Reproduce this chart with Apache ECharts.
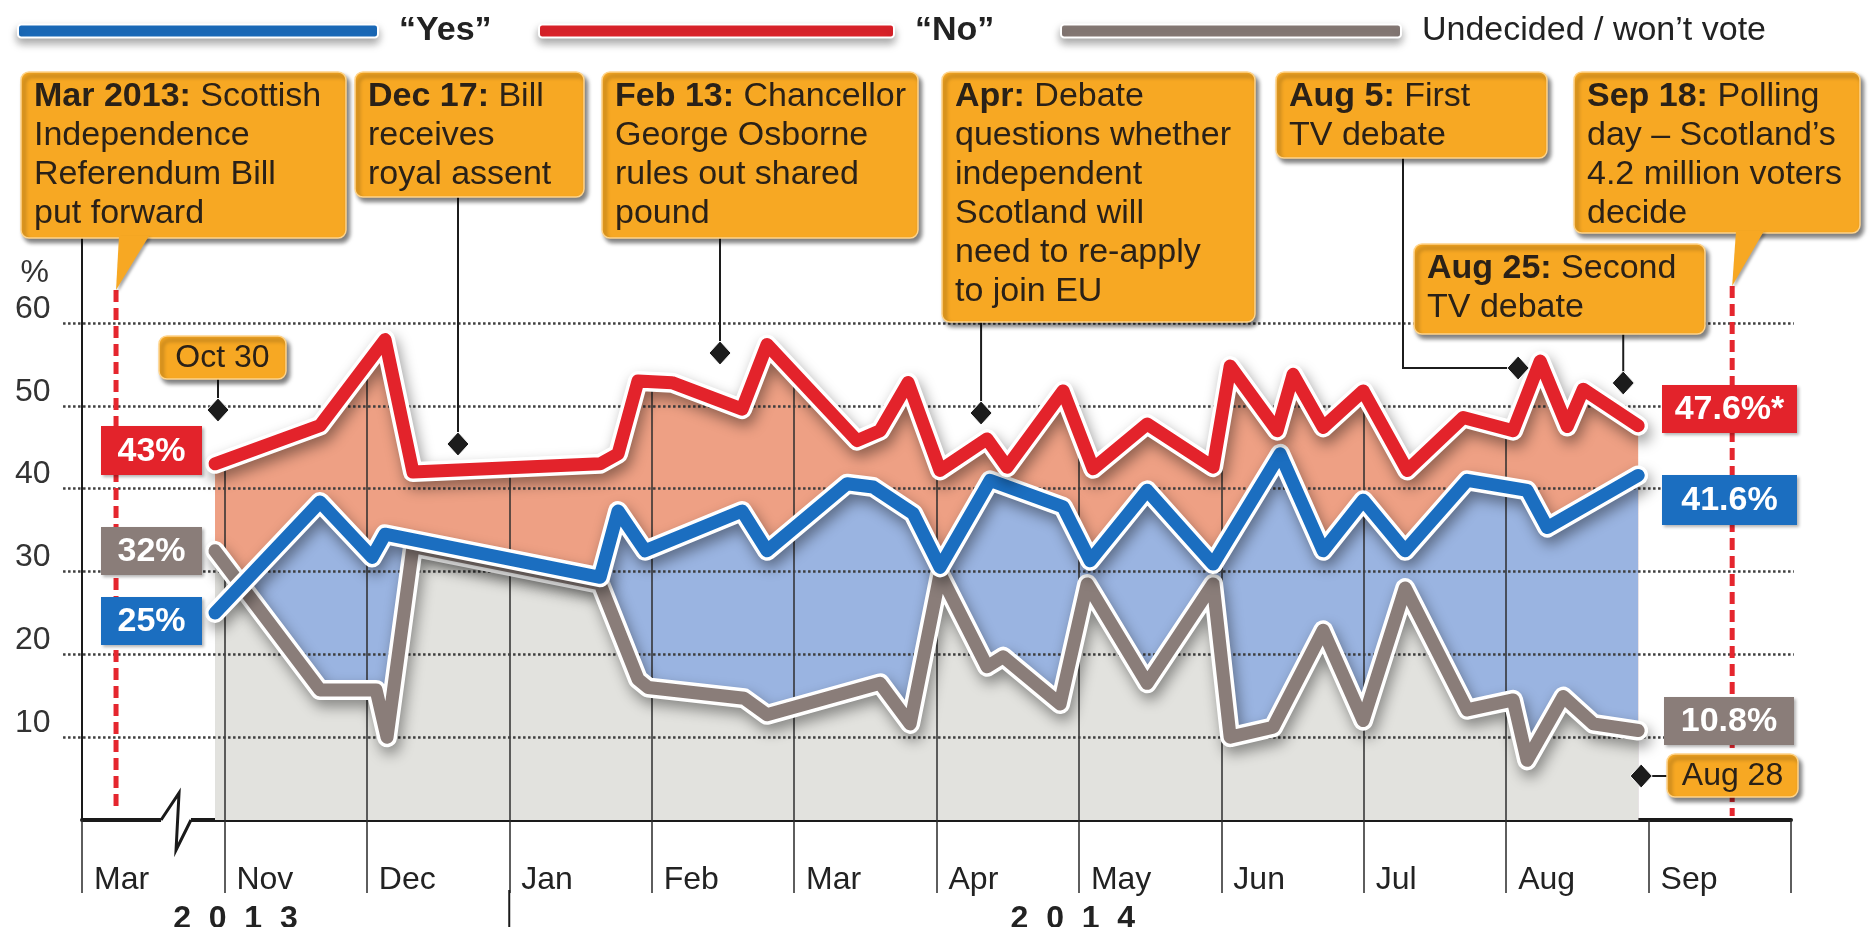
<!DOCTYPE html>
<html>
<head>
<meta charset="utf-8">
<script src="https://cdn.jsdelivr.net/npm/echarts/dist/echarts.min.js"></script>
<style>
  html, body { margin: 0; padding: 0; background: #fff; overflow: hidden; }
  #chart { width: 1870px; height: 927px; }
</style>
</head>
<body>
<div id="chart"></div>
<script>
// x is measured in month columns: 0 = start of Mar 2013, 1 = start of Nov 2013 ... 11 = start of Sep 2014
const monthLabels = ['Mar', 'Nov', 'Dec', 'Jan', 'Feb', 'Mar', 'Apr', 'May', 'Jun', 'Jul', 'Aug', 'Sep']
const yearLabels = ['2  0  1  3', '2  0  1  4']
const yTicks = [10, 20, 30, 40, 50, 60]
const seriesNames = ['“Yes”', '“No”', 'Undecided / won’t vote']

const noData = [
  [0.934, 43], [1.671, 47.6], [2.128, 58], [2.324, 42], [3.638, 43], [3.764, 44.2],
  [3.904, 53], [4.143, 52.8], [4.635, 49.6], [4.810, 57.4], [5.442, 45.8], [5.604, 47],
  [5.801, 52.8], [6.025, 42.2], [6.355, 46], [6.496, 42.6], [6.889, 51.8], [7.100, 42.4],
  [7.479, 47.8], [7.942, 42.6], [8.062, 54.8], [8.392, 47], [8.504, 53.8], [8.715, 47.4],
  [8.996, 51.8], [9.305, 42.2], [9.698, 48.6], [10.049, 47], [10.239, 55.4], [10.429, 47.5],
  [10.541, 52], [10.927, 47.6]
]
const yesData = [
  [0.934, 25], [1.671, 38.4], [2.037, 31.7], [2.128, 34.5], [3.638, 29.3], [3.764, 37.3],
  [3.954, 32.5], [4.635, 37.3], [4.810, 32.5], [5.372, 40.6], [5.555, 40.2], [5.836, 37],
  [6.025, 30.5], [6.376, 41], [6.889, 37.8], [7.079, 31.3], [7.479, 39.8], [7.942, 30.9],
  [8.413, 44.2], [8.715, 32.5], [8.996, 38.6], [9.291, 32.5], [9.726, 41], [10.147, 39.8],
  [10.288, 35.3], [10.927, 41.6]
]
const undecidedData = [
  [0.934, 32.5], [1.671, 15.7], [2.065, 15.7], [2.142, 10], [2.324, 33], [3.638, 28.5],
  [3.904, 17], [3.975, 16], [4.649, 14.7], [4.810, 12.7], [5.604, 16.5], [5.815, 11.6],
  [6.025, 29.7], [6.355, 18.5], [6.468, 19.7], [6.868, 14], [7.058, 28.5], [7.479, 16.5],
  [7.942, 28.5], [8.062, 10], [8.364, 11.2], [8.715, 22.9], [8.996, 12], [9.291, 28],
  [9.726, 13.3], [10.049, 14.5], [10.147, 7.2], [10.401, 14.9], [10.612, 11.6], [10.927, 10.8]
]

// first and last values shown in the side boxes: yes, no, undecided
const startLabels = ['25%', '43%', '32%']
const endLabels = ['41.6%', '47.6%*', '10.8%']

// events on the same month scale
const eventDates = [0.239, 0.955, 2.640, 4.480, 6.313, 10.084, 10.822, 10.948, 11.587]
const eventTexts = [
  '{b|Mar 2013:} Scottish\nIndependence\nReferendum Bill\nput forward',
  'Oct 30',
  '{b|Dec 17:} Bill\nreceives\nroyal assent',
  '{b|Feb 13:} Chancellor\nGeorge Osborne\nrules out shared\npound',
  '{b|Apr:} Debate\nquestions whether\nindependent\nScotland will\nneed to re-apply\nto join EU',
  '{b|Aug 5:} First\nTV debate',
  '{b|Aug 25:} Second\nTV debate',
  'Aug 28',
  '{b|Sep 18:} Polling\nday – Scotland’s\n4.2 million voters\ndecide'
]

const FONT = '"Liberation Sans", Arial, Helvetica, sans-serif'
const RED = '#e3232b'
const BLUE = '#1b6ec0'
const GREY = '#8a7d79'
const ORANGE = '#f7a823'
const INK = '#2a2118'

const chart = echarts.init(document.getElementById('chart'))

function fillSeries(data, color, z) {
  return {
    type: 'line', data, z, silent: true, symbol: 'none', animation: false,
    lineStyle: { opacity: 0 },
    areaStyle: { color, opacity: 1 }
  }
}

function outlineSeries(data, z) {
  return {
    type: 'line', data, z, silent: true, symbol: 'none', animation: false,
    lineStyle: {
      color: '#fff', width: 20, join: 'round', cap: 'round',
      shadowBlur: 14, shadowColor: 'rgba(0,0,0,0.4)', shadowOffsetX: 3, shadowOffsetY: 7
    }
  }
}

function lineSeries(name, data, color, z) {
  return {
    name, type: 'line', data, z, symbol: 'none', animation: false,
    itemStyle: { color },
    lineStyle: { color, width: 13, join: 'round', cap: 'round' }
  }
}

function legendItem(name, left, width, color, bold) {
  return {
    left, top: 9, itemWidth: width, itemHeight: 13, icon: 'roundRect', selectedMode: false,
    itemStyle: { color, borderColor: '#fff', borderWidth: 2, shadowBlur: 8, shadowColor: 'rgba(0,0,0,0.35)', shadowOffsetY: 5 },
    textStyle: { fontSize: 34, fontFamily: FONT, color: '#222', fontWeight: bold ? 'bold' : 'normal', padding: [0, 0, 0, 16] },
    data: [name]
  }
}

const options = {
  animation: false,
  legend: [
    legendItem(seriesNames[0], 12, 360, BLUE, true),
    legendItem(seriesNames[1], 533, 355, RED, true),
    legendItem(seriesNames[2], 1055, 340, GREY, false)
  ],
  grid: { left: 82, right: 79, top: 323, bottom: 107, containLabel: false, outerBoundsMode: 'none' },
  xAxis: {
    type: 'value', min: 0, max: 12, interval: 1,
    axisLine: { show: true, lineStyle: { color: '#1a1a1a', width: 4 } },
    axisTick: { show: true, length: 73, lineStyle: { color: '#2a2a2a', width: 1.5 } },
    axisLabel: {
      formatter: v => monthLabels[v] || '',
      align: 'left', padding: [0, 0, 0, 12], margin: 44,
      fontSize: 32, color: '#222', fontFamily: FONT,
      showMinLabel: true, showMaxLabel: true
    },
    splitLine: { show: false }
  },
  yAxis: {
    type: 'value', min: 0, max: 60, interval: 10,
    name: '%', nameLocation: 'end', nameGap: 50,
    nameTextStyle: { fontSize: 32, color: '#333', fontFamily: FONT, align: 'right', verticalAlign: 'middle', padding: [0, 33, 0, 0] },
    axisLine: { show: true, lineStyle: { color: '#1a1a1a', width: 2 } },
    axisTick: { show: false },
    axisLabel: {
      formatter: v => (v === 0 ? '' : String(v)),
      align: 'left', margin: 67, verticalAlign: 'bottom', lineHeight: 28,
      fontSize: 32, color: '#333', fontFamily: FONT
    },
    splitLine: { show: false }
  },
  series: [
    fillSeries(noData, '#eea084', 1),
    fillSeries(yesData, '#9ab4e1', 2),
    fillSeries(undecidedData, '#e2e2de', 3),
    {
      // month separators, hidden above the "No" line by the white cover below
      type: 'lines', coordinateSystem: 'cartesian2d', z: 4, silent: true, clip: false,
      lineStyle: { color: '#2e2e2e', width: 1.5, opacity: 1 },
      data: monthLabels.slice(1, 11).map((m, i) => ({ coords: [[i + 1, 0], [i + 1, 60]] }))
    },
    {
      type: 'line', data: noData, z: 5, silent: true, symbol: 'none',
      lineStyle: { opacity: 0 },
      areaStyle: { color: '#fff', opacity: 1, origin: 'end' }
    },
    {
      // dotted grid lines drawn over the fills
      type: 'lines', coordinateSystem: 'cartesian2d', z: 6, silent: true, clip: false,
      lineStyle: { color: '#3d3d3d', width: 2.5, type: [2.5, 2.5], opacity: 1 },
      data: yTicks.map(v => ({ coords: [[-0.133, v], [12.02, v]] }))
    },
    outlineSeries(undecidedData, 7),
    lineSeries(seriesNames[2], undecidedData, GREY, 8),
    outlineSeries(yesData, 9),
    lineSeries(seriesNames[0], yesData, BLUE, 10),
    outlineSeries(noData, 11),
    lineSeries(seriesNames[1], noData, RED, 12)
  ]
}

chart.setOption(options)

// ---------- annotations ----------
const P = (x, y) => chart.convertToPixel({ gridIndex: 0 }, [x, y])
const xAt = d => P(d, 0)[0]
const shadow = { shadowBlur: 4, shadowOffsetX: 3, shadowOffsetY: 4, shadowColor: 'rgba(0,0,0,0.5)' }

function line(x1, y1, x2, y2, stroke, width, dash, z) {
  return { type: 'line', z: z || 60, silent: true, shape: { x1, y1, x2, y2 }, style: { stroke, lineWidth: width, lineDash: dash || null } }
}

function diamond(cx, cy) {
  return {
    type: 'polygon', z: 62, silent: true,
    shape: { points: [[cx, cy - 12], [cx + 11, cy], [cx, cy + 12], [cx - 11, cy]] },
    style: { fill: '#1c1c1c', stroke: '#fff', lineWidth: 1 }
  }
}

function callout(x, y, w, h, text) {
  return [
    { type: 'rect', z: 100, silent: true, shape: { x, y, width: w, height: h, r: 8 }, style: Object.assign({ fill: ORANGE, stroke: '#ffd48a', lineWidth: 1.5 }, shadow) },
    {
      type: 'text', z: 102, silent: true, x: x + 13, y: y + 5,
      style: {
        text, fontSize: 34, fontFamily: FONT, fill: INK, lineHeight: 39, align: 'left', verticalAlign: 'top',
        rich: { b: { fontWeight: 'bold', fontSize: 34, fontFamily: FONT, fill: INK, lineHeight: 39 } }
      }
    }
  ]
}

function smallTag(x, y, w, text) {
  return [
    { type: 'rect', z: 100, silent: true, shape: { x, y, width: w, height: 43, r: 8 }, style: Object.assign({ fill: ORANGE, stroke: '#ffd48a', lineWidth: 1.5 }, shadow) },
    { type: 'text', z: 102, silent: true, x: x + w / 2, y: y + 22, style: { text, fontSize: 32, fontFamily: FONT, fill: INK, align: 'center', verticalAlign: 'middle' } }
  ]
}

function valueTag(x, y, w, h, text, color) {
  return [
    { type: 'rect', z: 90, silent: true, shape: { x, y, width: w, height: h }, style: { fill: color, shadowBlur: 3, shadowOffsetX: 2, shadowOffsetY: 2, shadowColor: 'rgba(0,0,0,0.3)' } },
    { type: 'text', z: 91, silent: true, x: x + w / 2, y: y + h / 2 + 1, style: { text, fontSize: 34, fontWeight: 'bold', fontFamily: FONT, fill: '#fff', align: 'center', verticalAlign: 'middle' } }
  ]
}

function tail(points) {
  return { type: 'polygon', z: 101, silent: true, shape: { points }, style: { fill: ORANGE, shadowBlur: 3, shadowOffsetX: 2, shadowOffsetY: 2, shadowColor: 'rgba(0,0,0,0.35)' } }
}

const g = []
const x0 = xAt(0)
const axisY = P(0, 0)[1]

// left axis runs up to the first box; Jan tick marks the year change
g.push(line(x0, 236, x0, P(0, 60)[1], '#1a1a1a', 2))
g.push(line(xAt(3), axisY + 70, xAt(3), 927, '#1a1a1a', 2))

// axis break between Mar 2013 and Nov 2013
const b1 = xAt(0.555)
const b2 = xAt(0.765)
g.push({ type: 'rect', z: 61, silent: true, shape: { x: b1, y: axisY - 6, width: b2 - b1, height: 12 }, style: { fill: '#fff' } })
g.push({ type: 'polyline', z: 62, silent: true, shape: { points: [[b1, axisY], [b1 + 18, axisY - 27], [b1 + 15, axisY + 30], [b2, axisY]] }, style: { stroke: '#1a1a1a', lineWidth: 3, fill: null } })

// years
g.push({ type: 'text', z: 60, silent: true, x: xAt(0.64), y: 903, style: { text: yearLabels[0], fontSize: 32, fontWeight: 'bold', fontFamily: FONT, fill: '#222' } })
g.push({ type: 'text', z: 60, silent: true, x: xAt(6.52), y: 903, style: { text: yearLabels[1], fontSize: 32, fontWeight: 'bold', fontFamily: FONT, fill: '#222' } })

// red dashed lines: bill put forward and polling day
const xMar = xAt(eventDates[0])
const xSep = xAt(eventDates[8])
g.push(line(xMar, 290, xMar, axisY - 8, '#e5262e', 5, [12, 6], 63))
g.push(line(xSep, 286, xSep, axisY - 4, '#e5262e', 5, [12, 6], 63))

// callout boxes
g.push(...callout(21, 72, 325, 166, eventTexts[0]))
g.push(tail([[119, 236], [149, 236], [xMar, 290]]))

g.push(...smallTag(159, 336, 127, eventTexts[1]))
g.push(line(xAt(eventDates[1]), 379, xAt(eventDates[1]), 410, '#1c1c1c', 2))
g.push(diamond(xAt(eventDates[1]), 410))

g.push(...callout(355, 72, 229, 125, eventTexts[2]))
g.push(line(xAt(eventDates[2]), 197, xAt(eventDates[2]), 444, '#1c1c1c', 2))
g.push(diamond(xAt(eventDates[2]), 444))

g.push(...callout(602, 72, 316, 166, eventTexts[3]))
g.push(line(xAt(eventDates[3]), 238, xAt(eventDates[3]), 353, '#1c1c1c', 2))
g.push(diamond(xAt(eventDates[3]), 353))

g.push(...callout(942, 72, 313, 250, eventTexts[4]))
g.push(line(xAt(eventDates[4]), 322, xAt(eventDates[4]), 413, '#1c1c1c', 2))
g.push(diamond(xAt(eventDates[4]), 413))

g.push(...callout(1276, 72, 271, 86, eventTexts[5]))
g.push({ type: 'polyline', z: 60, silent: true, shape: { points: [[1403, 158], [1403, 368], [xAt(eventDates[5]), 368]] }, style: { stroke: '#1c1c1c', lineWidth: 2, fill: null } })
g.push(diamond(xAt(eventDates[5]), 368))

g.push(...callout(1414, 244, 291, 90, eventTexts[6]))
g.push(line(xAt(eventDates[6]), 334, xAt(eventDates[6]), 383, '#1c1c1c', 2))
g.push(diamond(xAt(eventDates[6]), 383))

g.push(...smallTag(1667, 754, 131, eventTexts[7]))
g.push(line(xAt(eventDates[7]), 776, 1667, 776, '#1c1c1c', 2))
g.push(diamond(xAt(eventDates[7]), 776))

g.push(...callout(1574, 72, 286, 161, eventTexts[8]))
g.push(tail([[1736, 231], [1764, 231], [xSep, 286]]))

// start and end values
g.push(...valueTag(101, 426, 101, 49, startLabels[1], RED))
g.push(...valueTag(101, 527, 101, 48, startLabels[2], GREY))
g.push(...valueTag(101, 597, 101, 48, startLabels[0], BLUE))
g.push(...valueTag(1662, 385, 135, 48, endLabels[1], RED))
g.push(...valueTag(1662, 475, 135, 50, endLabels[0], BLUE))
g.push(...valueTag(1664, 697, 130, 48, endLabels[2], GREY))

chart.setOption({ graphic: g })

window.addEventListener('resize', function() {
  chart.resize()
})
</script>
</body>
</html>
